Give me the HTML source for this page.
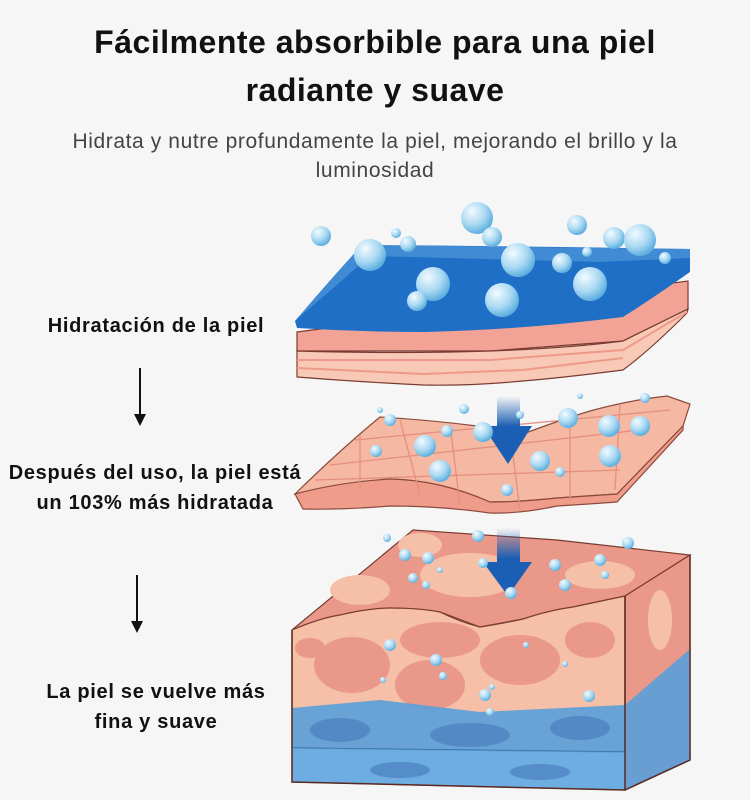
<!DOCTYPE html><html><head><meta charset="utf-8"><style>
body{margin:0;width:750px;height:800px;background:#f6f6f6;font-family:"Liberation Sans",sans-serif;position:relative;overflow:hidden}
.t{position:absolute;left:0;width:750px;text-align:center;font-weight:bold;font-size:32px;letter-spacing:0.5px;color:#111}
.s{position:absolute;left:0;width:750px;text-align:center;font-size:21px;letter-spacing:0.6px;color:#444}
.l{position:absolute;text-align:center;font-weight:bold;font-size:20px;letter-spacing:0.7px;color:#111;line-height:30px;white-space:nowrap}
</style></head><body>
<div class="t" style="top:24px">Fácilmente absorbible para una piel</div>
<div class="t" style="top:72px">radiante y suave</div>
<div class="s" style="top:130px">Hidrata y nutre profundamente la piel, mejorando el brillo y la</div>
<div class="s" style="top:159px">luminosidad</div>
<div class="l" style="left:6px;width:300px;top:311px">Hidratación de la piel</div>
<div class="l" style="left:0;width:310px;top:458px">Después del uso, la piel está<br>un 103% más hidratada</div>
<div class="l" style="left:6px;width:300px;top:677px">La piel se vuelve más<br>fina y suave</div>
<svg width="750" height="800" style="position:absolute;left:0;top:0">
<defs>
<radialGradient id="b" cx="0.35" cy="0.3" r="0.7"><stop offset="0" stop-color="#f2fbff"/><stop offset="0.6" stop-color="#a9d8f2"/><stop offset="1" stop-color="#5fb0e0"/></radialGradient>
<linearGradient id="ar" x1="0" y1="0" x2="0" y2="1"><stop offset="0" stop-color="#1a5fb4" stop-opacity="0"/><stop offset="0.45" stop-color="#1a5fb4"/></linearGradient>
</defs>
<g stroke="#111" stroke-width="2" fill="#111"><line x1="140" y1="368" x2="140" y2="420"/><path d="M134 414 L140 426 L146 414Z" stroke-width="0"/><line x1="137" y1="575" x2="137" y2="627"/><path d="M131 621 L137 633 L143 621Z" stroke-width="0"/></g>
<!-- top layer pink slab -->
<path d="M297 332 L688 281 L688 309 L623 341 L490 351 L297 351Z" fill="#f2a395" stroke="#7a3b30" stroke-width="1.2"/>
<path d="M297 351 Q400 354 490 351 Q570 348 623 341 L688 309 L687 313 Q650 350 623 370 Q560 378 523 381 Q470 386 423 385 Q360 382 297 377Z" fill="#f8c9b6" stroke="#7a3b30" stroke-width="1.2"/>
<g stroke="#ee9a8a" stroke-width="2" fill="none"><path d="M297 360 L490 360 L623 350 L687 312"/><path d="M297 368 L423 374 L523 370 L623 358"/></g>
<!-- blue sheet -->
<path d="M295 321 Q330 280 362 245 Q520 246 690 249 L690 272 Q650 300 623 317 Q520 330 423 332 Q360 332 297 328Z" fill="#1f6fc6"/>
<path d="M295 321 L362 245 L690 249 L690 258 L600 262 L370 256Z" fill="#4a92d8" opacity="0.8"/>
<!-- middle sheet -->
<path d="M295 494 Q340 450 380 417 Q430 420 477 426 Q500 432 523 434 Q560 420 590 411 Q630 400 667 396 L690 404 L683 426 Q650 460 617 494 L557 498 Q520 502 490 502 Q440 480 390 479 Z" fill="#f5b8a2" stroke="#8a4a3c" stroke-width="1.2"/>
<path d="M295 494 Q340 482 390 479 Q440 480 490 502 Q520 502 557 498 L617 494 L683 426 L683 430 L617 502 Q590 504 557 506 Q520 514 490 513 Q440 506 390 506 Q340 510 303 509Z" fill="#ef9c8a" stroke="#8a4a3c" stroke-width="1.2"/>
<g stroke="#e58f7f" stroke-width="1.3" fill="none"><path d="M330 465 L640 430"/><path d="M315 480 L620 470"/><path d="M355 440 L670 410"/><path d="M400 420 L420 495"/><path d="M450 425 L460 505"/><path d="M510 432 L520 510"/><path d="M570 420 L570 500"/><path d="M620 405 L615 490"/><path d="M360 435 L360 490"/></g>
<!-- block -->
<path d="M292 630 L413 530 L557 540 L690 555 L625 596 L573 607 L523 619 L480 627 L440 612 L390 608 L340 615Z" fill="#ea988a" stroke="#7a3b30" stroke-width="1.2"/>
<g fill="#f6bfa8"><ellipse cx="470" cy="575" rx="50" ry="22"/><ellipse cx="360" cy="590" rx="30" ry="15"/><ellipse cx="600" cy="575" rx="35" ry="14"/><ellipse cx="420" cy="545" rx="22" ry="12"/></g>
<path d="M292 630 Q320 618 340 615 Q370 608 390 608 Q420 608 440 612 Q460 622 480 627 Q500 624 523 619 Q550 610 573 607 L625 596 L625 790 L292 782Z" fill="#f6bfa8" stroke="#7a3b30" stroke-width="1.2"/>
<g fill="#ea988a"><ellipse cx="352" cy="665" rx="38" ry="28"/><ellipse cx="440" cy="640" rx="40" ry="18"/><ellipse cx="430" cy="685" rx="35" ry="25"/><ellipse cx="520" cy="660" rx="40" ry="25"/><ellipse cx="590" cy="640" rx="25" ry="18"/><ellipse cx="310" cy="648" rx="15" ry="10"/></g>
<path d="M625 596 L690 555 L690 760 L625 790Z" fill="#ea988a" stroke="#7a3b30" stroke-width="1.2"/>
<g fill="#f6bfa8"><ellipse cx="660" cy="620" rx="12" ry="30"/></g>
<path d="M292 708 L380 700 L480 712 L625 705 L625 790 L292 782Z" fill="#5a9fd8" opacity="0.9"/>
<path d="M625 705 L690 649 L690 760 L625 790Z" fill="#5a9fd8" opacity="0.9"/>
<line x1="292" y1="748" x2="625" y2="752" stroke="#3a6fa8" stroke-width="1.5"/>
<path d="M292 748 L625 752 L625 790 L292 782Z" fill="#6fb4ea" opacity="0.6"/>
<g fill="#4a7fbf" opacity="0.7"><ellipse cx="340" cy="730" rx="30" ry="12"/><ellipse cx="470" cy="735" rx="40" ry="12"/><ellipse cx="580" cy="728" rx="30" ry="12"/><ellipse cx="400" cy="770" rx="30" ry="8"/><ellipse cx="540" cy="772" rx="30" ry="8"/></g>
<path d="M292 630 L292 782 L625 790 L690 760 L690 555 M625 596 L625 790" fill="none" stroke="#5a2a22" stroke-width="1.5"/>
<!-- arrows -->
<path d="M497 396 L520 396 L520 426 L532 426 L508 464 L483 426 L497 426Z" fill="url(#ar)"/>
<path d="M497 528 L520 528 L520 562 L532 562 L508 596 L483 562 L497 562Z" fill="url(#ar)"/>
<!-- bubbles -->
<g fill="url(#b)">
<circle cx="477" cy="218" r="16"/><circle cx="321" cy="236" r="10"/><circle cx="370" cy="255" r="16"/><circle cx="408" cy="244" r="8"/><circle cx="492" cy="237" r="10"/><circle cx="518" cy="260" r="17"/><circle cx="562" cy="263" r="10"/><circle cx="577" cy="225" r="10"/><circle cx="614" cy="238" r="11"/><circle cx="640" cy="240" r="16"/><circle cx="665" cy="258" r="6"/><circle cx="433" cy="284" r="17"/><circle cx="417" cy="301" r="10"/><circle cx="502" cy="300" r="17"/><circle cx="590" cy="284" r="17"/><circle cx="396" cy="233" r="5"/><circle cx="587" cy="252" r="5"/>
<circle cx="464" cy="409" r="5"/><circle cx="390" cy="420" r="6"/><circle cx="447" cy="431" r="6"/><circle cx="425" cy="446" r="11"/><circle cx="440" cy="471" r="11"/><circle cx="376" cy="451" r="6"/><circle cx="483" cy="432" r="10"/><circle cx="568" cy="418" r="10"/><circle cx="540" cy="461" r="10"/><circle cx="560" cy="472" r="5"/><circle cx="609" cy="426" r="11"/><circle cx="640" cy="426" r="10"/><circle cx="610" cy="456" r="11"/><circle cx="645" cy="398" r="5"/><circle cx="507" cy="490" r="6"/><circle cx="520" cy="415" r="4"/><circle cx="580" cy="396" r="3"/><circle cx="380" cy="410" r="3"/>
<circle cx="387" cy="538" r="4"/><circle cx="405" cy="555" r="6"/><circle cx="428" cy="558" r="6"/><circle cx="413" cy="578" r="5"/><circle cx="426" cy="585" r="4"/><circle cx="440" cy="570" r="3"/><circle cx="483" cy="563" r="5"/><circle cx="478" cy="536" r="6"/><circle cx="511" cy="593" r="6"/><circle cx="555" cy="565" r="6"/><circle cx="565" cy="585" r="6"/><circle cx="600" cy="560" r="6"/><circle cx="605" cy="575" r="4"/><circle cx="628" cy="543" r="6"/><circle cx="390" cy="645" r="6"/><circle cx="436" cy="660" r="6"/><circle cx="443" cy="676" r="4"/><circle cx="485" cy="695" r="6"/><circle cx="492" cy="687" r="3"/><circle cx="589" cy="696" r="6"/><circle cx="383" cy="680" r="3"/><circle cx="526" cy="645" r="3"/><circle cx="565" cy="664" r="3"/><circle cx="490" cy="712" r="4"/>
</g>
</svg>
</body></html>
